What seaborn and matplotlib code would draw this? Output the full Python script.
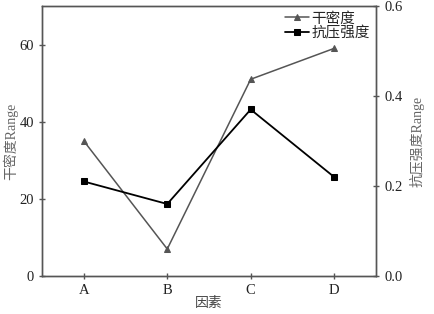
import pandas as pd
import matplotlib
matplotlib.use("Agg")
import matplotlib.pyplot as plt
import seaborn as sns

# data
factors = ["A", "B", "C", "D"]
dry_density = [35, 7, 51, 59]
strength = [0.21, 0.16, 0.37, 0.22]

sns.set_style("ticks")
plt.rcParams["font.family"] = ["Liberation Serif", "Noto Sans CJK SC"]
plt.rcParams["axes.unicode_minus"] = False

df = pd.DataFrame({"因素": factors, "干密度": dry_density, "抗压强度": strength})

fig, ax = plt.subplots(figsize=(4.34, 3.14), dpi=100)
ax2 = ax.twinx()

sns.lineplot(x="因素", y="干密度", data=df, ax=ax, color="#555555", marker="^",
             markersize=5, markeredgecolor="#555555", linewidth=1.1, label="干密度", legend=False)
sns.lineplot(x="因素", y="抗压强度", data=df, ax=ax2, color="black", marker="s",
             markersize=5, markeredgecolor="black", linewidth=1.3, label="抗压强度", legend=False)

ax.set_xlim(-0.5, 3.5)
ax.set_ylim(0, 70)
ax.set_yticks([0, 20, 40, 60])
ax2.set_ylim(0, 0.6)
ax2.set_yticks([0.0, 0.2, 0.4, 0.6])
ax2.set_yticklabels(["0.0", "0.2", "0.4", "0.6"])

ax.set_xlabel("因素", fontsize=10, color="#444444", labelpad=0)
ax.set_ylabel("干密度Range", fontsize=10, color="#666666")
ax2.set_ylabel("抗压强度Range", fontsize=10, color="#666666")
ax.yaxis.set_label_coords(-0.07, 0.5)
ax2.yaxis.set_label_coords(1.1, 0.5)

for a in (ax, ax2):
    for s in a.spines.values():
        s.set_color("#555555")
        s.set_linewidth(1.0)
    a.tick_params(direction="inout", length=5, width=1, colors="#555555",
                  labelcolor="#222222", labelsize=10.5)

h1, l1 = ax.get_legend_handles_labels()
h2, l2 = ax2.get_legend_handles_labels()
ax2.legend(h1 + h2, l1 + l2, loc="upper right", frameon=False, fontsize=10.5,
           handlelength=1.6, handletextpad=0.2, labelspacing=0.05,
           borderaxespad=0.2, borderpad=0.2)

plt.subplots_adjust(left=0.097, right=0.866, top=0.981, bottom=0.121)
plt.savefig("out.png", dpi=100)
